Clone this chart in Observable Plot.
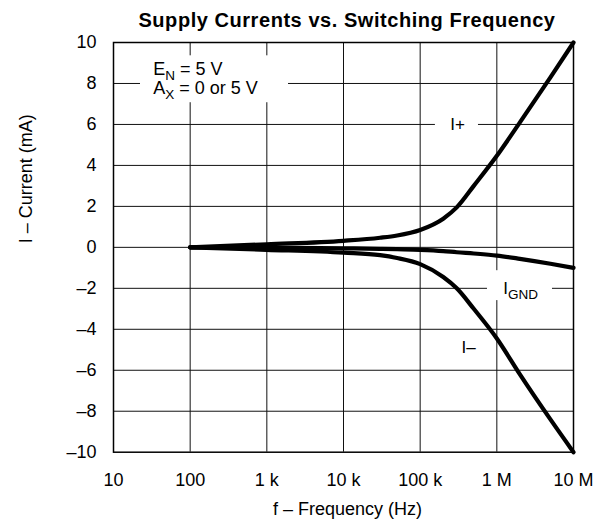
<!DOCTYPE html>
<html>
<head>
<meta charset="utf-8">
<script src="https://cdn.jsdelivr.net/npm/d3@7"></script>
<script src="https://cdn.jsdelivr.net/npm/@observablehq/plot@0.6"></script>
<style>
  body { margin: 0; background: #fff; }
  #wrap { position: relative; width: 608px; height: 527px; overflow: hidden; }
  #title { position: absolute; left: 97px; width: 500px; top: 10px; text-align: center; white-space: nowrap;
    font-family: 'Liberation Sans', Arial, Helvetica, sans-serif; font-weight: bold; font-size: 20px; line-height: 20px;
    letter-spacing: 0.55px; color: #000; }
  #chart { position: absolute; left: 0; top: 0; }
</style>
</head>
<body>
<div id="wrap">
  <div id="chart"></div>
  <div id="title">Supply Currents vs. Switching Frequency</div>
</div>
<script>
// ---- data ----
const xTicks = [10, 100, 1e3, 1e4, 1e5, 1e6, 1e7];
const xTickLabels = ["10", "100", "1 k", "10 k", "100 k", "1 M", "10 M"];
const yTicks = [-10, -8, -6, -4, -2, 0, 2, 4, 6, 8, 10];

const freq   = [100, 1e3, 1e4, 3e4, 5e4, 1e5, 2e5, 3e5, 5e5, 1e6, 2e6, 5e6, 1e7];
const iPlus  = [0, 0.15, 0.32, 0.47, 0.58, 0.85, 1.4, 1.95, 3.0, 4.47, 6.1, 8.3, 10];
const iMinus = [0, -0.12, -0.26, -0.38, -0.52, -0.82, -1.45, -2.0, -3.0, -4.45, -6.2, -8.4, -10];
const iGnd   = [0, -0.02, -0.05, -0.07, -0.09, -0.12, -0.18, -0.24, -0.3, -0.4, -0.56, -0.8, -1.0];

// annotation labels (data units) and their white backing boxes
const annotStart = [
  {label: "E_{N} = 5 V", f: 33, i: 8.42},
  {label: "A_{X} = 0 or 5 V", f: 33, i: 7.5}
];
const annotMid = [
  {label: "I+", f: 3.07e5, i: 6},
  {label: "I_{GND}", f: 2.04e6, i: -2},
  {label: "I–", f: 4.27e5, i: -4.9}
];
const boxes = [
  {f1: 22.5, f2: 1918, i1: 7.06, i2: 9.35},
  {f1: 1.58e5, f2: 5.76e5, i1: 5.4, i2: 6.6},
  {f1: 7.55e5, f2: 5.32e6, i1: -2.6, i2: -1.14}
];

const xLabel = "f – Frequency (Hz)";
const yLabel = "I – Current (mA)";

// ---- build ----
const rows = freq.flatMap((f, j) => [
  {name: "I+", f, i: iPlus[j]},
  {name: "I-", f, i: iMinus[j]},
  {name: "IGND", f, i: iGnd[j]}
]);
const labelMap = new Map(xTicks.map((t, k) => [t, xTickLabels[k]]));
const font = "'Liberation Sans', Arial, Helvetica, sans-serif";

const chart = Plot.plot({
  width: 608,
  height: 527,
  marginLeft: 113,
  marginRight: 35,
  marginTop: 42,
  marginBottom: 75.3,
  style: {fontFamily: font, fontSize: "18px", color: "#000", background: "#fff"},
  x: {type: "log", domain: [10, 1e7]},
  y: {domain: [-10, 10]},
  marks: [
    Plot.gridX(xTicks.slice(1, -1), {stroke: "#111", strokeOpacity: 1, strokeWidth: 1}),
    Plot.gridY(yTicks.slice(1, -1), {stroke: "#111", strokeOpacity: 1, strokeWidth: 1}),
    Plot.rect(boxes, {x1: "f1", x2: "f2", y1: "i1", y2: "i2", fill: "white"}),
    Plot.frame({stroke: "#000", strokeWidth: 1.5}),
    Plot.axisX(xTicks, {tickSize: 0, tickPadding: 21, tickFormat: d => labelMap.get(d), label: null, fontSize: 18}),
    Plot.axisY(yTicks, {tickSize: 0, tickPadding: 17, label: null, fontSize: 18,
      tickFormat: d => d === 0 ? "0" : (d < 0 ? "–" : "") + Math.abs(d)}),
    Plot.line(rows, {x: "f", y: "i", z: "name", stroke: "#000", strokeWidth: 4.2, curve: "monotone-x"}),
    Plot.text(annotStart, {x: "f", y: "i", text: "label", textAnchor: "start", lineAnchor: "bottom", fontSize: 18}),
    Plot.text(annotMid, {x: "f", y: "i", text: "label", textAnchor: "middle", fontSize: 17}),
    Plot.text([xLabel], {text: d => d, frameAnchor: "bottom", dy: 63, dx: 4, fontSize: 18}),
    Plot.text([yLabel], {text: d => d, frameAnchor: "left", dx: -87.5, dy: -4, rotate: -90, fontSize: 18})
  ]
});
document.getElementById("chart").appendChild(chart);

// subscripts: turn "_{..}" into shifted tspans
d3.select(chart).selectAll("text").each(function () {
  const t = this.textContent;
  if (!t.includes("_{")) return;
  const m = t.match(/^(.*?)_\{(.*?)\}(.*)$/);
  const el = d3.select(this);
  el.text("");
  el.append("tspan").text(m[1]);
  el.append("tspan").attr("dy", "5px").attr("font-size", "13.5px").text(m[2]);
  if (m[3]) el.append("tspan").attr("dy", "-5px").text(m[3]);
});
</script>
</body>
</html>
